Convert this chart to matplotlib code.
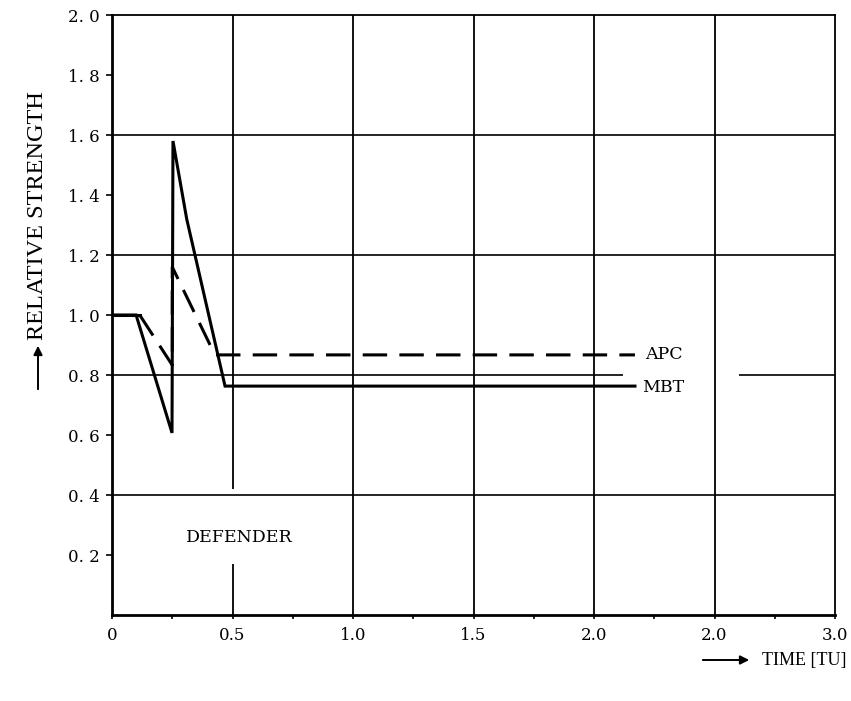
import matplotlib
matplotlib.use("Agg")
import matplotlib.pyplot as plt

# ---- data ----
mbt_t = [0.0, 0.10, 0.249, 0.253, 0.31, 0.469, 2.17]
mbt_v = [1.0, 1.0, 0.607, 1.58, 1.32, 0.763, 0.763]

apc_flat_t = [0.0, 0.115]
apc_flat_v = [1.0, 1.0]
apc_t = [0.115, 0.25, 0.25, 0.427, 2.17]
apc_v = [1.0, 0.833, 1.16, 0.867, 0.867]

y_ticks = [0.2, 0.4, 0.6, 0.8, 1.0, 1.2, 1.4, 1.6, 1.8, 2.0]
y_ticklabels = ["0. 2", "0. 4", "0. 6", "0. 8", "1. 0", "1. 2", "1. 4", "1. 6", "1. 8", "2. 0"]
x_ticks = [0.0, 0.5, 1.0, 1.5, 2.0, 2.5, 3.0]
x_ticklabels = ["0", "0.5", "1.0", "1.5", "2.0", "2.0", "3.0"]
x_minor = [0.25, 0.75, 1.25, 1.75, 2.25, 2.75]

# grid segments (value, start, end)
h_grid = [(0.4, 0.0, 3.0), (0.8, 0.0, 2.12), (0.8, 2.6, 3.0), (1.2, 0.0, 3.0), (1.6, 0.0, 3.0)]
v_grid = [(0.5, 0.42, 2.0), (0.5, 0.0, 0.17), (1.0, 0.0, 2.0), (1.5, 0.0, 2.0),
          (2.0, 0.0, 2.0), (2.5, 0.0, 2.0)]

SERIF = ["DejaVu Serif"]
TIMES = ["Liberation Serif", "DejaVu Serif"]
plt.rcParams["font.family"] = SERIF

fig = plt.figure(figsize=(8.51, 7.01), dpi=100)
ax = fig.add_axes([112/851, 1-615/701, 723/851, 600/701])
ax.set_xlim(0, 3.0)
ax.set_ylim(0, 2.0)

for v, a, b in h_grid:
    ax.hlines(v, a, b, color="black", lw=1.2, zorder=1)
for v, a, b in v_grid:
    ax.vlines(v, a, b, color="black", lw=1.3, zorder=1)

ax.plot(mbt_t, mbt_v, color="black", lw=2.2, solid_joinstyle="miter", zorder=3)
ax.plot(apc_flat_t, apc_flat_v, color="black", lw=2.2, zorder=3)
ax.plot(apc_t, apc_v, color="black", lw=2.2, dashes=(8, 4), zorder=3)

ax.text(2.21, 0.867, "APC", fontsize=12.5, va="center", ha="left")
ax.text(2.20, 0.760, "MBT", fontsize=12.5, va="center", ha="left")
ax.text(0.53, 0.26, "DEFENDER", fontsize=12.5, va="center", ha="center")

for s in ["left", "bottom"]:
    ax.spines[s].set_linewidth(2.0)
for s in ["top", "right"]:
    ax.spines[s].set_linewidth(1.3)

ax.set_yticks(y_ticks)
ax.set_yticklabels(y_ticklabels, fontsize=12)
ax.set_xticks(x_ticks)
ax.set_xticklabels(x_ticklabels, fontsize=12)
ax.set_xticks(x_minor, minor=True)
ax.tick_params(axis="y", direction="out", length=4, width=1.2, pad=5)
ax.tick_params(axis="x", which="major", direction="out", length=3, width=1.2, pad=6)
ax.tick_params(axis="x", which="minor", direction="out", length=3, width=1.2)

# y axis label with upward arrow
fig.text(38/851, 1-340/701, "RELATIVE STRENGTH", rotation=90, fontsize=17.5,
         ha="center", va="bottom", family=TIMES)
ax.annotate("", xy=(38/851, 1-343/701), xytext=(38/851, 1-392/701),
            xycoords="figure fraction", textcoords="figure fraction",
            arrowprops=dict(arrowstyle="-|>", lw=1.4, color="black", mutation_scale=13))
# x axis label with right arrow
ax.annotate("", xy=(752/851, 1-660/701), xytext=(700/851, 1-660/701),
            xycoords="figure fraction", textcoords="figure fraction",
            arrowprops=dict(arrowstyle="-|>", lw=1.4, color="black", mutation_scale=13))
fig.text(762/851, 1-660/701, "TIME [TU]", fontsize=13, ha="left", va="center", family=TIMES)

fig.savefig("out.png", dpi=100)
